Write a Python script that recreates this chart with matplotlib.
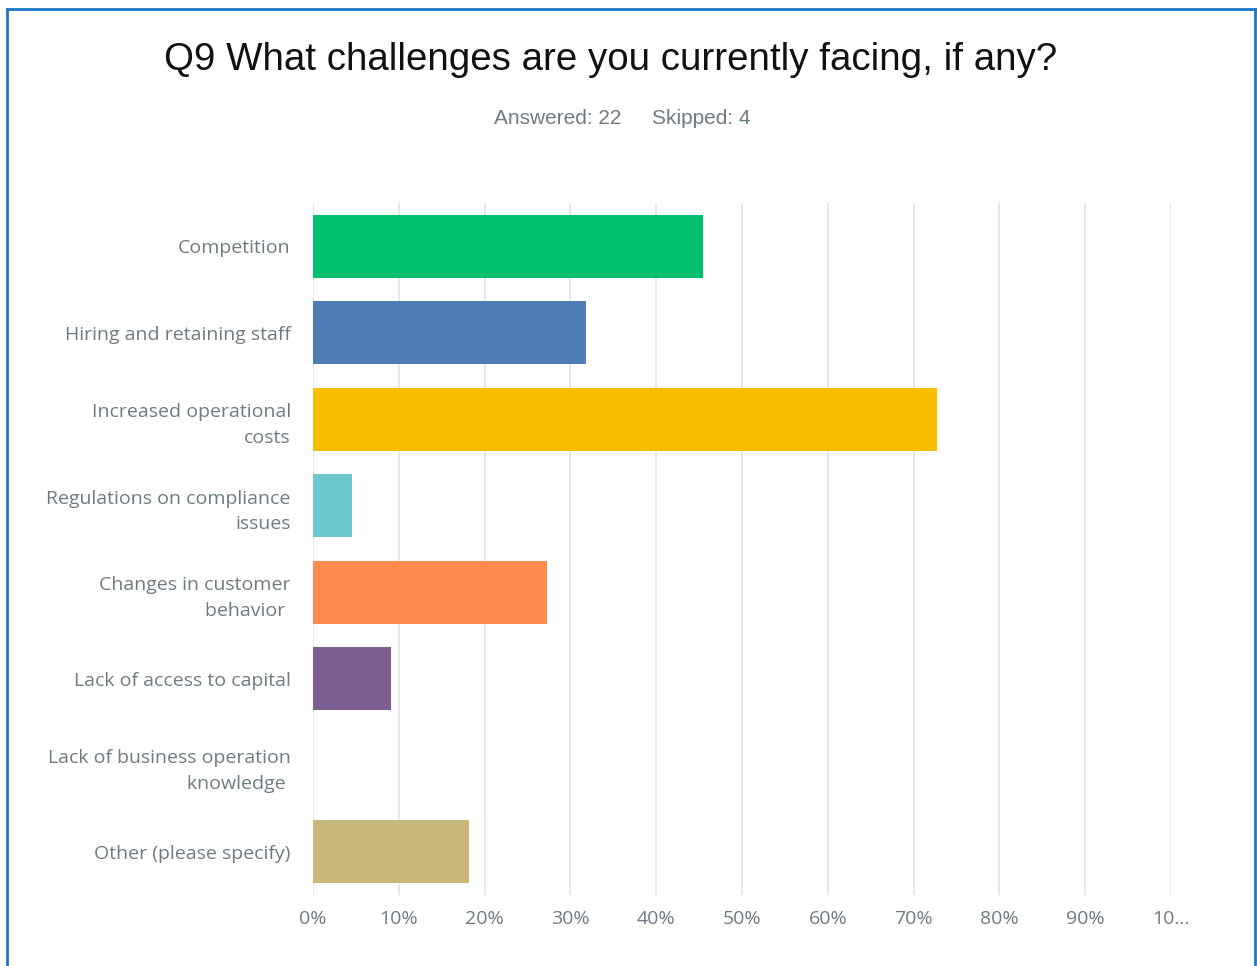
import matplotlib.pyplot as plt
from matplotlib.lines import Line2D

# survey answers (share of respondents)
categories = [
    "Competition",
    "Hiring and retaining staff",
    "Increased operational\ncosts",
    "Regulations on compliance\nissues",
    "Changes in customer\nbehavior ",
    "Lack of access to capital",
    "Lack of business operation\nknowledge ",
    "Other (please specify)",
]
shares = [0.4545, 0.3182, 0.7273, 0.0455, 0.2727, 0.0909, 0.0, 0.1818]
colors = ["#00BF6F", "#507CB6", "#F9BE00", "#6BC8CD", "#FF8B4F", "#7D5E90", "#D25F90", "#C7B879"]
tick_vals = [0, 0.1, 0.2, 0.3, 0.4, 0.5, 0.6, 0.7, 0.8, 0.9, 1.0]
tick_labels = ["0%", "10%", "20%", "30%", "40%", "50%", "60%", "70%", "80%", "90%", "10..."]

fig = plt.figure(figsize=(12.57, 9.66), dpi=100)
ax = fig.add_axes([0.249, 0.0735, 0.6826, 0.7164])

ypos = list(range(len(categories)))
ax.barh(ypos, shares, height=0.73, color=colors, zorder=3)
ax.set_ylim(len(categories) - 0.5, -0.5)
ax.set_xlim(0, 1.0)

ax.set_xticks(tick_vals)
ax.set_xticklabels(tick_labels, fontsize=14, color="#6f7b82", family="Open Sans")
ax.set_yticks(ypos)
ax.set_yticklabels(categories, fontsize=14, color="#6f7b82", family="Open Sans",
                   linespacing=1.55, ha="right")
ax.tick_params(axis="both", length=0)
ax.tick_params(axis="y", pad=16)
ax.tick_params(axis="x", pad=11)
ax.grid(axis="x", color="#e4e4e4", lw=1.2, zorder=0)
for s in ax.spines.values():
    s.set_visible(False)

fig.text(0.486, 0.938, "Q9 What challenges are you currently facing, if any?",
         ha="center", va="center", fontsize=27.7, family="Liberation Sans", color="#111111")
fig.text(0.494, 0.877, "Answered: 22", ha="right", va="center",
         fontsize=15, family="Liberation Sans", color="#6f7b82")
fig.text(0.519, 0.877, "Skipped: 4", ha="left", va="center",
         fontsize=15, family="Liberation Sans", color="#6f7b82")

# blue frame around the chart
frame = dict(color="#1f74c6", lw=2, transform=fig.transFigure)
fig.add_artist(Line2D([0.0056, 0.9984], [0.9905, 0.9905], **frame))
fig.add_artist(Line2D([0.0056, 0.0056], [0.0, 0.9905], **frame))
fig.add_artist(Line2D([0.9984, 0.9984], [0.0, 0.9905], **frame))

fig.savefig("out.png", dpi=100, facecolor="white")
